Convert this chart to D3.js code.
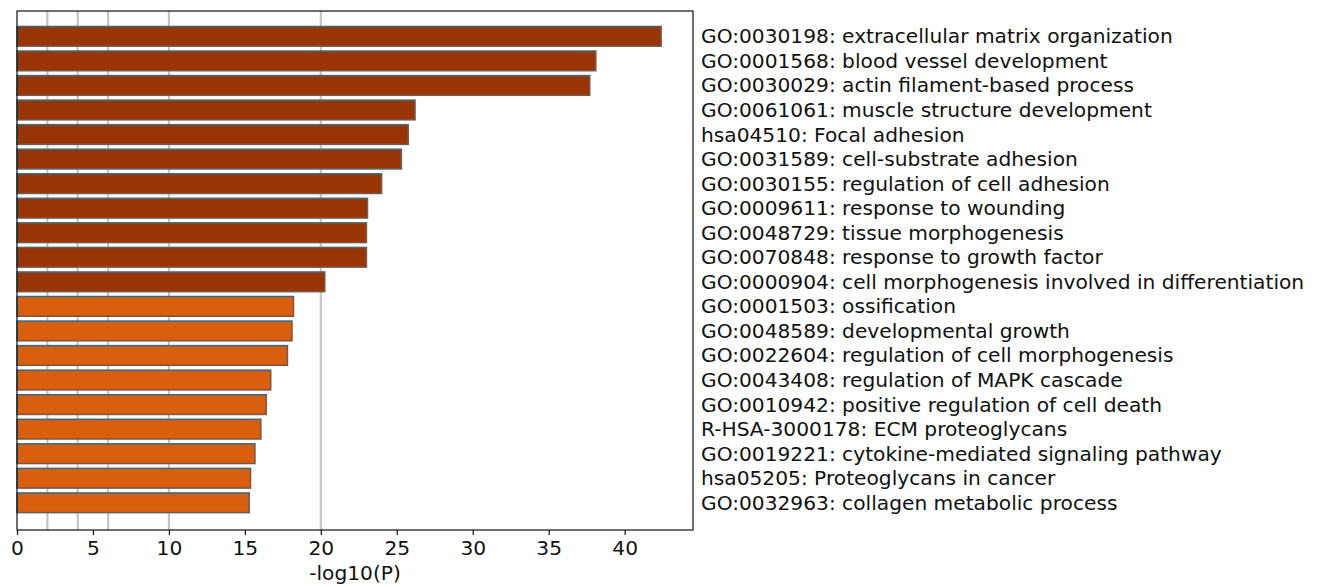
<!DOCTYPE html>
<html>
<head>
<meta charset="utf-8">
<script src="https://cdn.jsdelivr.net/npm/d3@7"></script>
<style>
    body { margin: 0; background: #fff; }
    svg text { font-family: "DejaVu Sans", sans-serif; fill: #111; }
</style>
</head>
<body>
<div id="chart"></div>
<script>
// enriched terms, top to bottom
const terms = [
    "GO:0030198: extracellular matrix organization",
    "GO:0001568: blood vessel development",
    "GO:0030029: actin filament-based process",
    "GO:0061061: muscle structure development",
    "hsa04510: Focal adhesion",
    "GO:0031589: cell-substrate adhesion",
    "GO:0030155: regulation of cell adhesion",
    "GO:0009611: response to wounding",
    "GO:0048729: tissue morphogenesis",
    "GO:0070848: response to growth factor",
    "GO:0000904: cell morphogenesis involved in differentiation",
    "GO:0001503: ossification",
    "GO:0048589: developmental growth",
    "GO:0022604: regulation of cell morphogenesis",
    "GO:0043408: regulation of MAPK cascade",
    "GO:0010942: positive regulation of cell death",
    "R-HSA-3000178: ECM proteoglycans",
    "GO:0019221: cytokine-mediated signaling pathway",
    "hsa05205: Proteoglycans in cancer",
    "GO:0032963: collagen metabolic process"
];

// -log10(P)
const logP = [42.4, 38.1, 37.7, 26.2, 25.75, 25.3, 24.0, 23.07, 23.0, 23.0,
              20.26, 18.2, 18.1, 17.8, 16.7, 16.4, 16.05, 15.66, 15.37, 15.28];

// significance tier (1 = strongest)
const tiers = [1, 1, 1, 1, 1, 1, 1, 1, 1, 1, 1, 2, 2, 2, 2, 2, 2, 2, 2, 2];

const xTicks = [0, 5, 10, 15, 20, 25, 30, 35, 40];
const gridValues = [2, 4, 6, 10, 20];
const xDomain = [0, 44.5];

const W = 1320, H = 587;
const plot = {left: 17, right: 693, top: 11, bottom: 530};
const fontSize = 20.2;

const svg = d3.select("#chart").append("svg")
    .attr("width", W)
    .attr("height", H);

svg.append("rect")
    .attr("width", W)
    .attr("height", H)
    .attr("fill", "#fff");

const x = d3.scaleLinear()
    .domain(xDomain)
    .range([plot.left, plot.right]);

const y = d3.scaleBand()
    .domain(terms)
    .range([26.5, 512.6])
    .paddingInner(0.2)
    .paddingOuter(0);

const color = d3.scaleOrdinal()
    .domain([1, 2])
    .range(["#993404", "#d95f0e"]);

// vertical grid lines behind bars
svg.append("g")
    .selectAll("line")
    .data(gridValues)
    .join("line")
    .attr("x1", d => x(d))
    .attr("x2", d => x(d))
    .attr("y1", plot.top)
    .attr("y2", plot.bottom)
    .attr("stroke", "#c4c4c4")
    .attr("stroke-width", 2.2);

const rows = terms.map((t, i) => ({term: t, value: logP[i], tier: tiers[i]}));

svg.append("g")
    .selectAll("rect")
    .data(rows)
    .join("rect")
    .attr("x", x(0))
    .attr("y", d => y(d.term))
    .attr("width", d => x(d.value) - x(0))
    .attr("height", y.bandwidth())
    .attr("fill", d => color(d.tier))
    .attr("stroke", "#606060")
    .attr("stroke-width", 1.6);

// frame
svg.append("rect")
    .attr("x", plot.left)
    .attr("y", plot.top)
    .attr("width", plot.right - plot.left)
    .attr("height", plot.bottom - plot.top)
    .attr("fill", "none")
    .attr("stroke", "#111")
    .attr("stroke-width", 1.2);

// x axis
const xAxis = svg.append("g")
    .attr("transform", `translate(0,${plot.bottom})`)
    .call(d3.axisBottom(x)
        .tickValues(xTicks)
        .tickSize(5)
        .tickPadding(6));

xAxis.select(".domain").remove();
xAxis.selectAll(".tick line").attr("stroke", "#111").attr("stroke-width", 1.2);
xAxis.selectAll(".tick text")
    .attr("font-family", "DejaVu Sans, sans-serif")
    .attr("font-size", fontSize)
    .attr("fill", "#111");

svg.append("text")
    .attr("x", (plot.left + plot.right) / 2)
    .attr("y", 580)
    .attr("text-anchor", "middle")
    .attr("font-size", fontSize)
    .text("-log10(P)");

// term labels to the right of the plot
svg.append("g")
    .selectAll("text")
    .data(rows)
    .join("text")
    .attr("x", 701)
    .attr("y", d => y(d.term) + y.bandwidth() / 2)
    .attr("dominant-baseline", "central")
    .attr("font-size", fontSize)
    .text(d => d.term);
</script>
</body>
</html>
